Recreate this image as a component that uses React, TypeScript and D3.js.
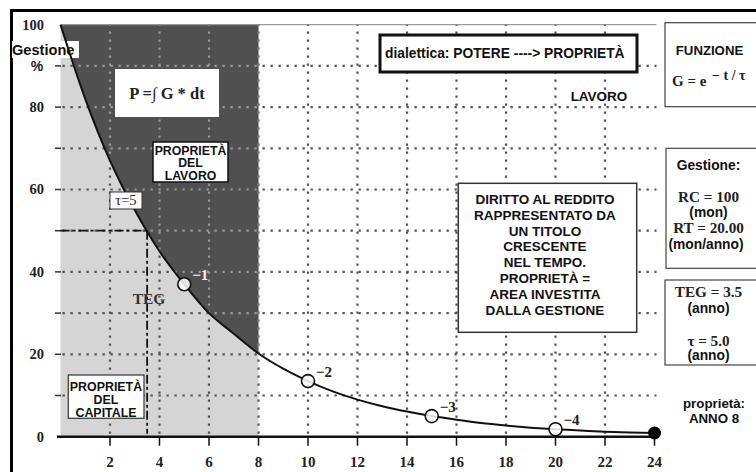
import React from 'react';
import * as d3 from 'd3';

// ---- data ----
const curveT = [0, 1, 2, 3, 4, 5, 6, 7, 8, 9, 10, 11, 12, 13, 14, 15, 16, 17, 18, 19, 20, 21, 22, 23, 24];
const curveG = [100, 82, 67, 55, 45, 37, 30, 25, 20.2, 16.5, 13.5, 11, 9, 7.4, 6.1, 5, 4.1, 3.3, 2.7, 2.2, 1.8, 1.5, 1.2, 1.0, 0.9];
const markerT = [5, 10, 15, 20];
const markerG = [37, 13.5, 5, 1.8];
const markerLabels = ['\u22121', '\u22122', '\u22123', '\u22124'];
const xTickValues = [2, 4, 6, 8, 10, 12, 14, 16, 18, 20, 22, 24];
const xGridValues = [2, 4, 6, 8, 10, 12, 14, 16, 18, 20, 22];
const yTickLabels = [0, 20, 40, 60, 80, 100];
const yGridValues = [10, 20, 30, 40, 50, 60, 70, 80, 90];
const propertyEndT = 8;
const tegT = 3.5;
const tegG = 50;
const endT = 24;
const endG = 0.9;

const diritto = [
  'DIRITTO AL REDDITO',
  'RAPPRESENTATO DA',
  'UN TITOLO',
  'CRESCENTE',
  'NEL TEMPO.',
  'PROPRIETÀ =',
  'AREA INVESTITA',
  'DALLA GESTIONE',
];

const SANS = '"Liberation Sans", Arial, sans-serif';
const SERIF = '"Liberation Serif", "Times New Roman", serif';

export default function App() {
  const x = d3.scaleLinear().domain([0, 24]).range([60.5, 654.5]);
  const y = d3.scaleLinear().domain([0, 100]).range([436.7, 24.7]);

  const pts: [number, number][] = curveT.map((t, i) => [t, curveG[i]]);
  const line = d3
    .line<[number, number]>()
    .x((d) => x(d[0]))
    .y((d) => y(d[1]))
    .curve(d3.curveMonotoneX);
  const darkPts = pts.filter((d) => d[0] <= propertyEndT);
  const area = d3
    .area<[number, number]>()
    .x((d) => x(d[0]))
    .y0(y(100))
    .y1((d) => y(d[1]))
    .curve(d3.curveMonotoneX);

  const grid = '#505050';
  const gridOnDark = '#9a9a9a';
  const dots = '2.3,5.7';
  const gw = 2.2;
  const darkX0 = x(0);
  const darkX1 = x(propertyEndT);

  const gridLines = (color: string, prefix: string) => (
    <>
      {yGridValues.map((v) => (
        <line
          key={prefix + 'hy' + v}
          x1={x(0) + 2}
          x2={x(24) + 2}
          y1={y(v)}
          y2={y(v)}
          stroke={color}
          strokeWidth={gw}
          strokeDasharray={dots}
        />
      ))}
      {xGridValues.map((v) => (
        <line
          key={prefix + 'vx' + v}
          x1={x(v)}
          x2={x(v)}
          y1={y(0) - 3}
          y2={y(100)}
          stroke={color}
          strokeWidth={gw}
          strokeDasharray={dots}
        />
      ))}
    </>
  );

  return (
    <svg
      width={756}
      height={472}
      style={{ position: 'absolute', left: 0, top: 0, background: '#fff' }}
    >
      <defs>
        <clipPath id="darkClip">
          <path d={area(darkPts) || ''} />
        </clipPath>
      </defs>
      <rect x={0} y={0} width={756} height={472} fill="#fff" />
      {/* outer frame */}
      <line x1={11.5} y1={9} x2={11.5} y2={472} stroke="#000" strokeWidth={3} />
      <line x1={10} y1={10.5} x2={756} y2={10.5} stroke="#000" strokeWidth={3} />

      {/* property regions */}
      <rect
        x={darkX0}
        y={y(100)}
        width={darkX1 - darkX0}
        height={y(0) - y(100)}
        fill="#d5d5d5"
      />
      <path d={area(darkPts) || ''} fill="#505050" />

      {/* top line at 100 */}
      <line x1={x(0)} x2={x(24) + 2} y1={y(100)} y2={y(100)} stroke="#999" strokeWidth={1.2} />

      {/* grid */}
      {gridLines(grid, 'a')}
      <g clipPath="url(#darkClip)">{gridLines(gridOnDark, 'b')}</g>

      {/* left tick marks */}
      {yGridValues.map((v) => (
        <line key={'lt' + v} x1={55} x2={61} y1={y(v)} y2={y(v)} stroke="#333" strokeWidth={1.5} />
      ))}

      {/* TEG dash-dot lines */}
      <line
        x1={x(0)}
        x2={x(tegT)}
        y1={y(tegG)}
        y2={y(tegG)}
        stroke="#111"
        strokeWidth={1.8}
        strokeDasharray="9,3,3,3"
      />
      <line
        x1={x(tegT)}
        x2={x(tegT)}
        y1={y(tegG)}
        y2={y(0) - 3}
        stroke="#111"
        strokeWidth={1.8}
        strokeDasharray="9,3,3,3"
      />

      {/* Gestione label background */}
      <rect x={12} y={41} width={67} height={17} fill="#fff" />

      {/* curve */}
      <path d={line(pts) || ''} fill="none" stroke="#111" strokeWidth={2} />

      {/* x axis */}
      <line x1={57} x2={x(24) + 3} y1={y(0)} y2={y(0)} stroke="#111" strokeWidth={2.5} />
      {xTickValues.map((v) => (
        <g key={'xt' + v}>
          <line x1={x(v)} x2={x(v)} y1={y(0)} y2={y(0) + 9} stroke="#111" strokeWidth={1.5} />
          <text
            x={x(v)}
            y={467}
            textAnchor="middle"
            fontFamily={SERIF}
            fontWeight="bold"
            fontSize={15}
            fill="#222"
          >
            {v}
          </text>
        </g>
      ))}
      {/* y labels */}
      {yTickLabels.map((v) => (
        <text
          key={'yl' + v}
          x={44}
          y={y(v) + 4.8}
          textAnchor="end"
          fontFamily={SERIF}
          fontWeight="bold"
          fontSize={14.5}
          fill="#222"
        >
          {v}
        </text>
      ))}
      <text x={12} y={54.5} fontFamily={SANS} fontWeight="bold" fontSize={14.6} fill="#111">
        Gestione
      </text>
      <text x={37} y={70.5} textAnchor="middle" fontFamily={SANS} fontWeight="bold" fontSize={14} fill="#222">
        %
      </text>

      {/* markers */}
      {markerT.map((t, i) => (
        <g key={'m' + t}>
          <circle cx={x(t)} cy={y(markerG[i])} r={6.5} fill="#fff" fillOpacity={0.85} stroke="#111" strokeWidth={1.6} />
          <text
            x={x(t) + 8}
            y={y(markerG[i]) - 4}
            fontFamily={SERIF}
            fontWeight="bold"
            fontSize={15}
            fill={t < propertyEndT ? '#f4f4f4' : '#222'}
          >
            {markerLabels[i]}
          </text>
        </g>
      ))}
      <circle cx={x(endT)} cy={y(endG)} r={6.5} fill="#000" />

      {/* formula box */}
      <rect x={115} y={69} width={104} height={48} fill="#fff" />
      <text x={167} y={99} textAnchor="middle" fontFamily={SERIF} fontWeight="bold" fontSize={16.5} fill="#222">
        P =∫  G * dt
      </text>

      {/* PROPRIETÀ DEL LAVORO */}
      <rect x={153} y={142} width={75} height={40} fill="#fff" stroke="#111" strokeWidth={1.5} />
      {['PROPRIETÀ', 'DEL', 'LAVORO'].map((s, i) => (
        <text
          key={'pl' + i}
          x={190.5}
          y={154.5 + i * 12.5}
          textAnchor="middle"
          fontFamily={SANS}
          fontWeight="bold"
          fontSize={12.3}
          fill="#111"
        >
          {s}
        </text>
      ))}

      {/* tau box */}
      <rect x={110} y={192} width={32} height={17} fill="#fff" stroke="#333" strokeWidth={1} />
      <text x={126} y={205} textAnchor="middle" fontFamily={SERIF} fontSize={14.5} fill="#222">
        τ=5
      </text>

      {/* TEG label */}
      <text x={149} y={303.5} textAnchor="middle" fontFamily={SERIF} fontWeight="bold" fontSize={15.5} fill="#333">
        TEG
      </text>

      {/* PROPRIETÀ DEL CAPITALE */}
      <rect x={68.3} y={375} width={75.7} height={43.3} fill="#fff" stroke="#333" strokeWidth={1.2} />
      {['PROPRIETÀ', 'DEL', 'CAPITALE'].map((s, i) => (
        <text
          key={'pc' + i}
          x={106}
          y={391 + i * 13.2}
          textAnchor="middle"
          fontFamily={SANS}
          fontWeight="bold"
          fontSize={12.4}
          fill="#111"
        >
          {s}
        </text>
      ))}

      {/* dialettica box */}
      <rect x={380} y={35} width={257} height={37} fill="#fff" stroke="#111" strokeWidth={3} />
      <text x={385} y={58} fontFamily={SANS} fontWeight="bold" fontSize={13.8} fill="#111">
        dialettica: POTERE ----&gt; PROPRIETÀ
      </text>
      <text x={599} y={101} textAnchor="middle" fontFamily={SANS} fontWeight="bold" fontSize={13.5} fill="#111">
        LAVORO
      </text>

      {/* DIRITTO box */}
      <rect x={458.3} y={183.3} width={178.4} height={149} fill="#fff" stroke="#333" strokeWidth={1.5} />
      {diritto.map((s, i) => (
        <text
          key={'d' + i}
          x={545}
          y={204 + i * 15.8}
          textAnchor="middle"
          fontFamily={SANS}
          fontWeight="bold"
          fontSize={13.5}
          fill="#111"
        >
          {s}
        </text>
      ))}

      {/* FUNZIONE box */}
      <rect x={665} y={22.7} width={100} height={84} fill="#fff" stroke="#444" strokeWidth={1.2} />
      <text x={709.5} y={55} textAnchor="middle" fontFamily={SANS} fontWeight="bold" fontSize={13.2} fill="#111">
        FUNZIONE
      </text>
      <text x={672} y={86} fontFamily={SERIF} fontWeight="bold" fontSize={15} fill="#222">
        G = e
      </text>
      <text x={712} y={80} fontFamily={SERIF} fontWeight="bold" fontSize={14} fill="#222">
        − t / τ
      </text>

      {/* Gestione box */}
      <rect x={666} y={148.3} width={100} height={120} fill="#fff" stroke="#444" strokeWidth={1.2} />
      <text x={708.5} y={170} textAnchor="middle" fontFamily={SANS} fontWeight="bold" fontSize={13.8} fill="#111">
        Gestione:
      </text>
      <text x={708.5} y={201.5} textAnchor="middle" fontFamily={SERIF} fontWeight="bold" fontSize={15.2} fill="#222">
        RC = 100
      </text>
      <text x={708.5} y={216.5} textAnchor="middle" fontFamily={SANS} fontWeight="bold" fontSize={13.8} fill="#111">
        (mon)
      </text>
      <text x={708.5} y={232.5} textAnchor="middle" fontFamily={SERIF} fontWeight="bold" fontSize={15.2} fill="#222">
        RT = 20.00
      </text>
      <text x={706} y={248.5} textAnchor="middle" fontFamily={SANS} fontWeight="bold" fontSize={13.8} fill="#111">
        (mon/anno)
      </text>

      {/* TEG box */}
      <rect x={665} y={280} width={100} height={85} fill="#fff" stroke="#444" strokeWidth={1.2} />
      <text x={708.5} y={297} textAnchor="middle" fontFamily={SERIF} fontWeight="bold" fontSize={15.2} fill="#222">
        TEG = 3.5
      </text>
      <text x={708.5} y={312.5} textAnchor="middle" fontFamily={SANS} fontWeight="bold" fontSize={13.8} fill="#111">
        (anno)
      </text>
      <text x={708.5} y={345.5} textAnchor="middle" fontFamily={SERIF} fontWeight="bold" fontSize={15.2} fill="#222">
        τ = 5.0
      </text>
      <text x={708.5} y={360} textAnchor="middle" fontFamily={SANS} fontWeight="bold" fontSize={13.8} fill="#111">
        (anno)
      </text>

      {/* proprietà: ANNO 8 */}
      <text x={714} y={408} textAnchor="middle" fontFamily={SANS} fontWeight="bold" fontSize={13.3} fill="#111">
        proprietà:
      </text>
      <text x={714} y={423} textAnchor="middle" fontFamily={SANS} fontWeight="bold" fontSize={13.3} fill="#111">
        ANNO 8
      </text>
    </svg>
  );
}
